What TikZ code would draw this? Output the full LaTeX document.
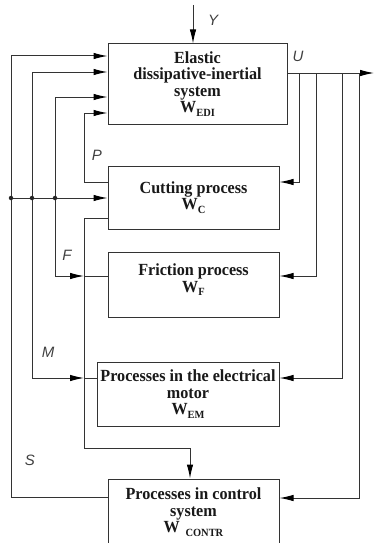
\documentclass[tikz,border=0pt]{standalone}
\usepackage{fontspec}
\setmainfont{Liberation Serif}
\newfontfamily\boxfont[FakeStretch=0.95]{Liberation Serif}
\newfontfamily\lblfont{Liberation Sans}
\usetikzlibrary{arrows.meta}
\newcommand{\mysub}[1]{\raisebox{-3.5pt}{\fontsize{11}{11}\selectfont #1}}
\begin{document}
\begin{tikzpicture}[x=1pt,y=-1pt,
  ln/.style={line width=1pt, draw=black!80},
  arr/.style={ln, -{Latex[length=14pt,width=6.5pt,color=black]}},
  blk/.style={ln, fill=white, align=center, inner sep=0pt,
    font=\boxfont\fontsize{17}{16.5}\selectfont\bfseries, text=black!90},
  sig/.style={font=\lblfont\itshape\fontsize{15}{15}\selectfont, text=black!75},
  dot/.style={circle, fill=black!85, inner sep=0pt, minimum size=4.5pt}]
\useasboundingbox (0,0) rectangle (374,543);

% blocks
\node[blk, minimum width=179pt, minimum height=80pt] (edi) at (197.5,84)
  {Elastic\\dissipative-inertial\\system\\W\mysub{EDI}};
\node[blk, minimum width=171pt, minimum height=63pt] (cut) at (193.5,197.5)
  {Cutting process\\W\mysub{C}};
\node[blk, minimum width=171pt, minimum height=65pt] (fric) at (193.5,284.5)
  {Friction process\\W\mysub{F}\\[-4pt]};
\node[blk, minimum width=182pt, minimum height=64pt] (em) at (188,394)
  {Processes in the electrical\\motor\\W\mysub{EM}};
\node[blk, minimum width=171pt, minimum height=66pt] (ctrl) at (193.5,512)
  {Processes in control\\system\\W\,\,\mysub{CONTR}};

% coordinates
\coordinate (ytop) at (193,5);
\coordinate (uend) at (374,73);
\coordinate (r1) at (299,73);
\coordinate (r2) at (316,73);
\coordinate (r3) at (342,73);
\coordinate (r4) at (359,73);
\coordinate (j1) at (11,198);
\coordinate (j2) at (32,198);
\coordinate (j3) at (55,198);
\coordinate (xf) at (84,276);
\coordinate (xm) at (84,378);

% input Y and output U
\draw[arr] (ytop) -- (ytop |- edi.north);
\draw[arr] (edi.east |- uend) -- (uend);

% feedback from U to the right sides
\draw[arr] (r1) |- (cut.east |- 0,182);
\draw[arr] (r2) |- (fric.east |- 0,276);
\draw[arr] (r3) |- (em.east |- 0,378);
\draw[arr] (r4) |- (ctrl.east |- 0,498);

% left side
\draw[arr] (ctrl.west |- 0,497) -| (11,56) -- (edi.west |- 0,56);
\draw[arr] (xm -| j2) -- (32,72) -- (edi.west |- 0,72);
\draw[arr] (xf -| j3) -- (55,97) -- (edi.west |- 0,97);
\draw[arr] (cut.west |- 0,182) -- (84,182) -- (84,113) -- (edi.west |- 0,113);
\draw[arr] (j1) -- (cut.west |- j1);
\draw[arr] (xf -| j3) -- (xf);
\draw[ln] (xf) -- (fric.west |- xf);
\draw[arr] (xm -| j2) -- (xm);
\draw[ln] (xm) -- (em.west |- xm);
\draw[arr] (cut.west |- 0,218) -- (84,218) -- (84,448) -- (190,448) -- (190,0 |- ctrl.north);

\node[dot] at (j1) {};
\node[dot] at (j2) {};
\node[dot] at (j3) {};

% signal labels
\node[sig] at (213,20) {Y};
\node[sig] at (298,56) {U};
\node[sig] at (97,155) {P};
\node[sig] at (67,255) {F};
\node[sig] at (48,352) {M};
\node[sig] at (30,460) {S};
\end{tikzpicture}
\end{document}
